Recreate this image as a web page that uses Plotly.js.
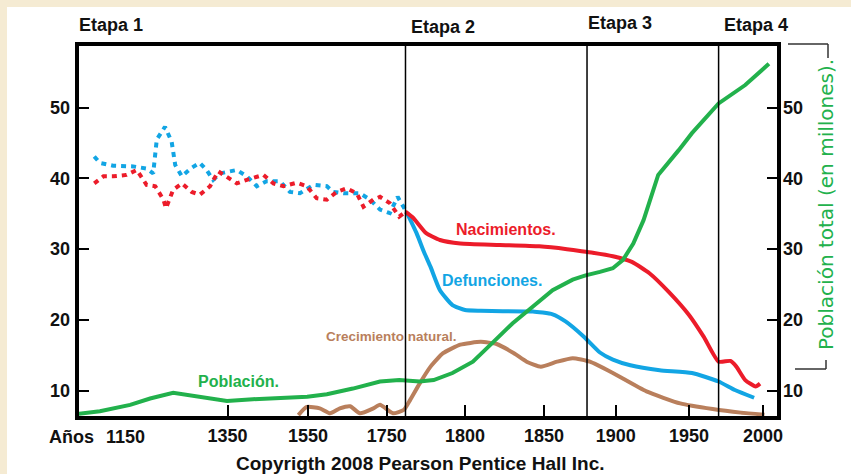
<!DOCTYPE html>
<html>
<head>
<meta charset="utf-8">
<script src="https://cdn.plot.ly/plotly-3.0.1.min.js"></script>
<style>html,body{margin:0;padding:0;background:#fff;}#chart{width:851px;height:474px;}</style>
</head>
<body>
<div id="chart"></div>
<script>
// ---------- DATA (years / rates per 1000 / population in millions) ----------
const popYears = [1056,1101,1160,1199,1244,1296,1349,1413,1480,1548,1598,1664,1733,1758,1771,1780,1792,1805,1818,1830,1843,1856,1870,1879,1889,1898,1905,1912,1919,1929,1943,1952,1970,1988,2004];
const popValues = [6.7,7.1,8.0,8.9,9.7,9.15,8.55,8.8,9.0,9.15,9.5,10.3,11.3,11.5,11.3,11.5,12.5,14.1,16.9,19.5,21.9,24.2,25.7,26.3,26.8,27.3,28.5,30.8,34.1,40.5,44.0,46.4,50.6,53.2,56.2];

const birthsEarlyYears = [1090,1108,1127,1153,1173,1192,1209,1225,1230,1244,1261,1280,1296,1316,1332,1348,1373,1398,1439,1464,1489,1522,1547,1572,1598,1623,1648,1674,1691,1716,1733,1752,1758,1762];
const birthsEarly = [39.3,40.3,40.3,40.5,41.2,39.1,38.9,37.0,35.8,38.4,39.3,38.1,37.7,38.9,41.0,40.3,39.3,39.8,40.5,39.3,38.9,39.4,38.9,37.2,37.0,38.1,38.6,37.9,36.0,37.0,37.4,36.5,34.6,35.3];

const deathsEarlyYears = [1090,1101,1127,1166,1192,1205,1212,1228,1241,1248,1261,1280,1296,1309,1322,1335,1373,1398,1423,1447,1480,1505,1530,1564,1598,1614,1640,1682,1708,1733,1752,1757,1763];
const deathsEarly = [43.1,42.2,41.8,41.7,41.4,40.7,45.5,47.3,45.2,41.9,40.3,41.5,42.2,41.2,39.8,40.7,41.2,40.3,38.9,39.6,39.6,38.1,37.9,39.1,38.9,38.1,37.9,37.9,37.0,35.6,35.1,37.4,35.1];

const birthsYears = [1762,1767,1775,1784,1797,1822,1847,1866,1875,1884,1898,1911,1923,1936,1950,1960,1970,1978,1982,1988,1995,1998];
const births = [35.3,34.4,32.3,31.3,30.8,30.6,30.4,30.0,29.75,29.5,29.0,28.2,26.6,24.0,20.7,17.6,14.1,14.2,13.4,11.5,10.6,11.0];

const deathsYears = [1763,1769,1774,1778,1784,1792,1800,1810,1838,1843,1856,1865,1878,1889,1898,1910,1930,1952,1970,1981,1994];
const deaths = [35.1,32.3,29.5,27.5,24.2,22.1,21.4,21.3,21.2,21.2,20.8,19.8,17.6,15.4,14.4,13.6,12.9,12.5,11.3,10.1,9.0];

const growthYears = [1526,1547,1580,1606,1631,1657,1682,1716,1733,1754,1761,1765,1771,1778,1786,1797,1810,1820,1831,1839,1848,1859,1870,1882,1898,1921,1944,1966,1985,2001];
const growth = [6.55,7.7,7.5,6.8,7.5,7.8,6.8,7.5,8.0,6.8,7.3,8.7,11.0,13.4,15.3,16.5,16.9,16.6,15.3,14.1,13.4,14.1,14.6,14.1,12.5,9.9,8.2,7.4,6.9,6.6];

const tickYears = [1350,1550,1750,1800,1850,1900,1950,2000];
const stageYears = [1762,1880,1970];
const yTicks = [10,20,30,40,50];

// ---------- non-uniform time scale of the original figure ----------
const SCALE_YEARS = [1050,1150,1350,1550,1750,1800,1850,1900,1950,2000];
const SCALE_POS   = [73.75,125,227.5,308,386.7,465,544,615.7,689,763];
function sx(y){
  const n = SCALE_YEARS.length;
  let i = 0;
  if (y <= SCALE_YEARS[0]) i = 0;
  else if (y >= SCALE_YEARS[n-1]) i = n-2;
  else { while (y > SCALE_YEARS[i+1]) i++; }
  const t = (y - SCALE_YEARS[i]) / (SCALE_YEARS[i+1] - SCALE_YEARS[i]);
  return SCALE_POS[i] + t * (SCALE_POS[i+1] - SCALE_POS[i]);
}
const X = arr => arr.map(sx);

// pixel -> paper helpers for decorations
const PL = 77, PR = 779, PT = 44, PB = 418;
const px = v => (v - PL) / (PR - PL);
const py = v => (PB - v) / (PB - PT);

const RED = '#ec1c2a', BLUE = '#12a5e4', GREEN = '#22b14c', BROWN = '#b97f5c', INK = '#111111';
const FONT = 'Liberation Sans, Arial, sans-serif';

const traces = [
  {x: X(deathsEarlyYears), y: deathsEarly, mode:'lines', line:{color:BLUE, width:4, dash:'5px,5px'}, hoverinfo:'skip'},
  {x: X(birthsEarlyYears), y: birthsEarly, mode:'lines', line:{color:RED, width:4, dash:'5px,5px'}, hoverinfo:'skip'},
  {x: X(popYears), y: popValues, yaxis:'y2', mode:'lines', line:{color:GREEN, width:4}},
  {x: X(growthYears), y: growth, mode:'lines', line:{color:BROWN, width:4, shape:'spline', smoothing:0.5}},
  {x: X(deathsYears), y: deaths, mode:'lines', line:{color:BLUE, width:4, shape:'spline', smoothing:0.5}},
  {x: X(birthsYears), y: births, mode:'lines', line:{color:RED, width:4, shape:'spline', smoothing:0.5}}
];

const tickFont = {family: FONT, size: 18, color: INK, weight: 'bold'};
const yRange = [6.14, 59.0];

const shapes = [
  // white sheet over cream border
  {type:'rect', xref:'paper', yref:'paper', x0:px(7), x1:px(860), y0:py(480), y1:py(7), fillcolor:'#ffffff', line:{width:0}, layer:'below'},
  // stage lines
  ...stageYears.map(y => ({type:'line', xref:'x', yref:'paper', x0:sx(y), x1:sx(y), y0:0, y1:1, line:{color:'#000', width:1.5}})),
  // frame
  {type:'rect', xref:'paper', yref:'paper', x0:0, x1:1, y0:0, y1:1, line:{color:'#000', width:4}},
  // brackets of right axis title
  {type:'line', xref:'paper', yref:'paper', x0:px(788), x1:px(828), y0:py(44), y1:py(44), line:{color:'#333', width:1.5}},
  {type:'line', xref:'paper', yref:'paper', x0:px(828), x1:px(828), y0:py(44), y1:py(58), line:{color:'#333', width:1.5}},
  {type:'line', xref:'paper', yref:'paper', x0:px(826), x1:px(826), y0:py(360), y1:py(369), line:{color:'#333', width:1.5}},
  {type:'line', xref:'paper', yref:'paper', x0:px(795), x1:px(826), y0:py(369), y1:py(369), line:{color:'#333', width:1.5}}
];

const ann = (text, x, y, font, extra) => Object.assign({text, xref:'paper', yref:'paper', x:px(x), y:py(y), xanchor:'center', yanchor:'middle', showarrow:false, font}, extra||{});
const boldF = (size, color) => ({family: FONT, size, color, weight:'bold'});

const annotations = [
  ann('Etapa 1', 111, 25, boldF(18, INK)),
  ann('Etapa 2', 443, 27, boldF(18, INK)),
  ann('Etapa 3', 620, 23, boldF(18, INK)),
  ann('Etapa 4', 756, 25, boldF(18, INK)),
  ann('Nacimientos.', 506, 229, boldF(16, RED)),
  ann('Defunciones.', 492, 280, boldF(16, BLUE)),
  ann('Crecimiento natural.', 391, 336, boldF(13.5, BROWN)),
  ann('Población.', 238, 381, boldF(16, GREEN)),
  ann('Años', 71, 437, boldF(18, INK)),
  ann('1150', sx(1150), 437, boldF(18, INK)),
  ann('Copyrigth 2008 Pearson Pentice Hall Inc.', 420, 463, boldF(19, INK)),
  ann('Población total (en millones).', 826, 205, {family:'DejaVu Sans, sans-serif', size:20, color:GREEN}, {textangle:-90})
];

const layout = {
  width: 851, height: 474,
  margin: {l: PL, r: 851 - PR, t: PT, b: 474 - PB, pad: 0},
  paper_bgcolor: '#f5ebd3',
  plot_bgcolor: '#ffffff',
  showlegend: false,
  xaxis: {range:[PL, PR], tickvals: X(tickYears), ticktext: tickYears.map(String), ticks:'inside', ticklen:13, tickwidth:2, tickcolor:'#000',
          tickfont: tickFont, showgrid:false, zeroline:false, showline:false, fixedrange:true, ticklabelstandoff: 5},
  yaxis: {range: yRange, tickvals: yTicks, ticks:'inside', ticklen:12, tickwidth:2, tickcolor:'#000', tickfont: tickFont,
          showgrid:false, zeroline:false, showline:false, ticklabelstandoff: 6},
  yaxis2: {range: yRange, overlaying:'y', side:'right', tickvals: yTicks, ticks:'inside', ticklen:12, tickwidth:2, tickcolor:'#000', tickfont: tickFont,
          showgrid:false, zeroline:false, showline:false, ticklabelstandoff: 3},
  shapes, annotations
};

Plotly.newPlot('chart', traces, layout, {staticPlot:true, displayModeBar:false});
</script>
</body>
</html>
